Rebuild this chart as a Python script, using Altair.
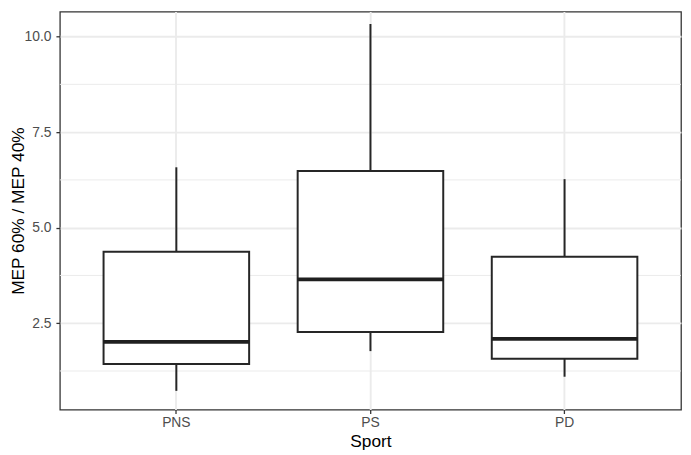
import altair as alt
import pandas as pd

sports = ["PNS", "PS", "PD"]
lower = [0.73, 1.77, 1.10]
q1 = [1.43, 2.27, 1.57]
median = [2.01, 3.65, 2.09]
q3 = [4.37, 6.48, 4.24]
upper = [6.58, 10.33, 6.27]
minor_breaks = [1.25, 3.75, 6.25, 8.75]
major_breaks = [2.5, 5.0, 7.5, 10.0]

df = pd.DataFrame({"Sport": sports, "lower": lower, "q1": q1, "median": median,
                   "q3": q3, "upper": upper})
minor_df = pd.DataFrame({"v": minor_breaks})

ydom = [0.24, 10.654]
yscale = alt.Scale(domain=ydom, nice=False, zero=False)
xscale = alt.Scale(domain=sports, paddingInner=0, paddingOuter=0.1)

x_enc = alt.X("Sport:N", scale=xscale, sort=sports,
              axis=alt.Axis(title="Sport", bandPosition=0.5, labelAngle=0))
y_axis = alt.Axis(title="MEP 60% / MEP 40%", values=major_breaks, format=".1f")

minor = alt.Chart(minor_df).mark_rule(color="#EBEBEB", strokeWidth=1).encode(
    y=alt.Y("v:Q", scale=yscale, axis=y_axis),
    x=alt.value(0), x2=alt.value(628.5),
)

base = alt.Chart(df)
whisk_lo = base.mark_rule(color="#262626", strokeWidth=2).encode(
    x=x_enc, y=alt.Y("lower:Q", scale=yscale, axis=y_axis), y2="q1:Q")
whisk_hi = base.mark_rule(color="#262626", strokeWidth=2).encode(
    x=x_enc, y=alt.Y("q3:Q", scale=yscale, axis=y_axis), y2="upper:Q")
box = base.mark_bar(fill="white", stroke="#262626", strokeWidth=2,
                    width={"band": 0.75}).encode(
    x=x_enc, y=alt.Y("q1:Q", scale=yscale, axis=y_axis), y2="q3:Q")
med = base.mark_tick(color="#1F1F1F", opacity=1, thickness=3.8, size=147.3,
                     orient="horizontal").encode(
    x=x_enc, y=alt.Y("median:Q", scale=yscale, axis=y_axis))

chart = alt.layer(minor, whisk_lo, whisk_hi, box, med).properties(
    width=628.5, height=402.7,
    autosize=alt.AutoSizeParams(type="none"),
    padding={"left": 52.5, "top": 1, "right": 2, "bottom": 43},
    background="white",
).configure_view(
    stroke="#333333", strokeWidth=1.3, fill="white"
).configure_axis(
    domain=False,
    grid=True, gridColor="#EBEBEB", gridWidth=1.9,
    tickColor="#333333", tickWidth=1.3, tickSize=4,
    labelFont="Liberation Sans", labelFontSize=14, labelColor="#4D4D4D",
    titleFont="Liberation Sans", titleFontSize=17.5, titleColor="black",
    titleFontWeight="normal",
).configure_axisY(titlePadding=-3, labelPadding=5).configure_axisX(titlePadding=3, labelPadding=2)

chart.save("out.html", embed_options={"renderer": "svg", "actions": False})
